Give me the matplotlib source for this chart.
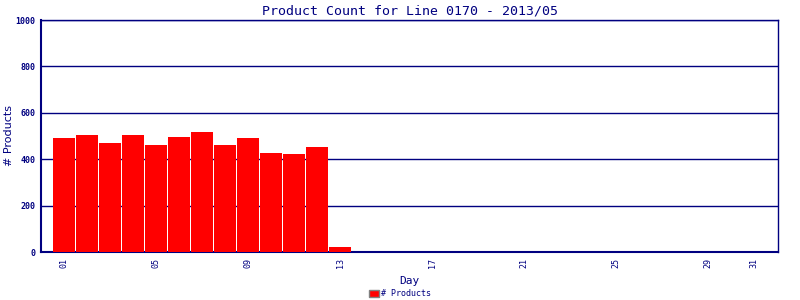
import matplotlib
matplotlib.use("Agg")
import matplotlib.pyplot as plt

days = list(range(1, 14))
counts = [491, 504, 470, 504, 461, 496, 517, 461, 491, 427, 422, 453, 22]
tick_days = [1, 5, 9, 13, 17, 21, 25, 29, 31]
tick_labels = ["01", "05", "09", "13", "17", "21", "25", "29", "31"]
y_ticks = [0, 200, 400, 600, 800, 1000]

navy = "#000080"
plt.rcParams['font.family'] = ['DejaVu Sans Mono']

fig = plt.figure(figsize=(8, 3), dpi=100)
ax = fig.add_axes([41/800, 48/300, 737/800, 232/300])
ax.bar(days, counts, width=0.96, color="#ff0000", edgecolor="none", zorder=3,
       label="# Products")
ax.set_xlim(0, 32.04)
ax.set_ylim(0, 1000)
ax.set_yticks(y_ticks)
ax.set_yticklabels([str(v) for v in y_ticks], fontsize=6, color=navy, fontweight="bold")
ax.set_xticks(tick_days)
ax.set_xticklabels(tick_labels, rotation=90, fontsize=6, color=navy)
ax.tick_params(length=0, pad=4)
ax.grid(axis="y", color=navy, linewidth=1, zorder=1)
for s in ax.spines.values():
    s.set_color(navy)
    s.set_linewidth(1)
ax.spines['left'].set_linewidth(1.5)
ax.spines['bottom'].set_linewidth(1.5)
ax.set_title("Product Count for Line 0170 - 2013/05", fontsize=9.5, color=navy, pad=4)
ax.set_xlabel("Day", fontsize=8, color=navy, labelpad=6)
ax.set_ylabel("# Products", fontsize=8, color=navy, family=["DejaVu Sans"])
ax.yaxis.set_label_coords(-27/737, 0.5)
leg = fig.legend(loc="lower center", bbox_to_anchor=(0.5, -0.02), frameon=False,
                 fontsize=6, handlelength=1.2, handleheight=0.8, handletextpad=0.3,
                 labelcolor=navy)
for h in leg.legend_handles:
    h.set_edgecolor("#808080")
fig.savefig("out.png", dpi=100, facecolor="white")
